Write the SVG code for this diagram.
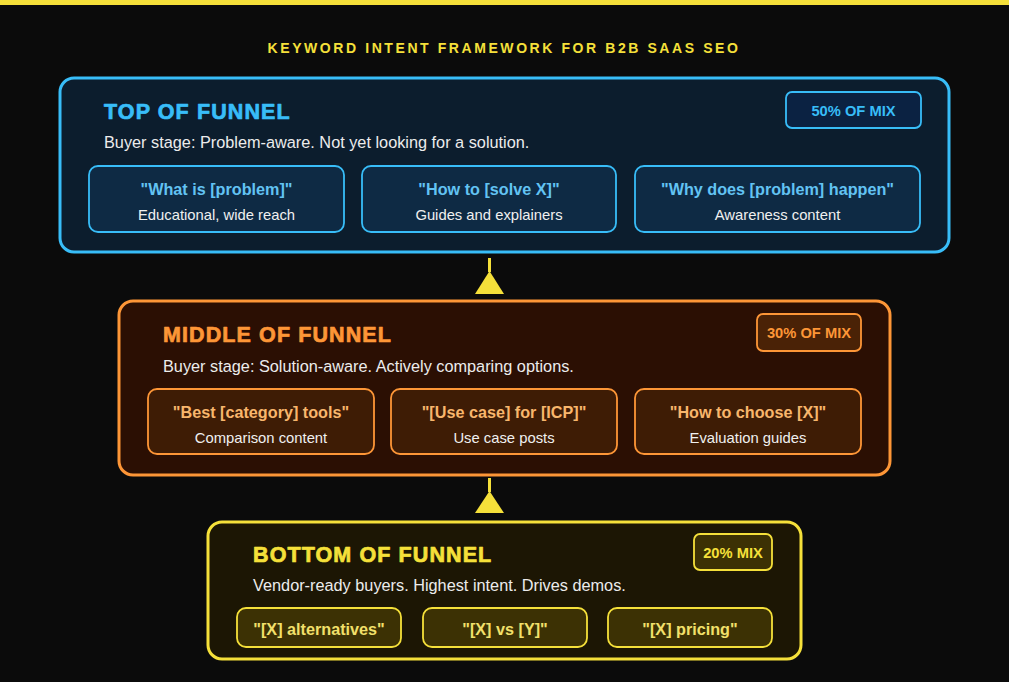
<svg xmlns="http://www.w3.org/2000/svg" width="1024" height="698" viewBox="0 0 1024 698">
<style>
text{font-family:"Liberation Sans",Arial,sans-serif}
.main{font-weight:700;font-size:14px;letter-spacing:2.58px;fill:#f5e03a;text-anchor:middle}
.h{font-weight:700;font-size:21.5px;letter-spacing:1.1px;stroke-width:0.7px;stroke-linejoin:round}
.sub{font-size:16.3px;fill:#ececec}
.badge{font-weight:700;font-size:14.7px;text-anchor:middle}
.kt{font-weight:700;font-size:16.2px;text-anchor:middle}
.kd{font-size:14.8px;fill:#f0f0f0;text-anchor:middle}
.blue .frame{fill:#0c1d2d;stroke:#38bdf8;stroke-width:3}
.blue .card{fill:#0e2a44;stroke:#38bdf8;stroke-width:1.8}
.blue .bd{fill:#0b2242;stroke:#38bdf8;stroke-width:1.8}
.blue .h{fill:#38bdf8;stroke:#38bdf8}
.blue .badge{fill:#38bdf8}
.blue .kt{fill:#62c3f3}
.orange .frame{fill:#2b0f03;stroke:#fd9637;stroke-width:3}
.orange .card{fill:#3e1c05;stroke:#fd9637;stroke-width:1.8}
.orange .bd{fill:#4a2206;stroke:#fd9637;stroke-width:1.8}
.orange .h{fill:#fd9637;stroke:#fd9637}
.orange .badge{fill:#fd9637}
.orange .kt{fill:#f8b66c}
.yellow .frame{fill:#1c1604;stroke:#f5e03a;stroke-width:3}
.yellow .card{fill:#3c3104;stroke:#f5e03a;stroke-width:1.8}
.yellow .bd{fill:#3c3104;stroke:#f5e03a;stroke-width:1.8}
.yellow .h{fill:#f5e03a;stroke:#f5e03a}
.yellow .badge{fill:#f5e03a}
.yellow .kt{fill:#f2e06a}
.arrow{fill:#f5e03a}
</style>
<rect x="0" y="0" width="1024" height="698" fill="#ffffff"/>
<rect x="0" y="0" width="1009" height="682" fill="#0b0b0b"/>
<rect x="0" y="0" width="1009" height="5" fill="#f5e03a"/>
<text class="main" x="504" y="53">KEYWORD INTENT FRAMEWORK FOR B2B SAAS SEO</text>

<g id="top-of-funnel" class="blue">
<rect class="frame" x="60" y="78" width="889" height="174" rx="14"/>
<text class="h" x="104" y="119">TOP OF FUNNEL</text>
<rect class="bd" x="786" y="92" width="135" height="36" rx="6"/>
<text class="badge" x="853.5" y="115.5">50% OF MIX</text>
<text class="sub" x="104" y="148">Buyer stage: Problem-aware. Not yet looking for a solution.</text>
<g id="tof-1"><rect class="card" x="89" y="166" width="255" height="66" rx="9"/>
<text class="kt" x="216.5" y="194.5">"What is [problem]"</text>
<text class="kd" x="216.5" y="219.5">Educational, wide reach</text></g>
<g id="tof-2"><rect class="card" x="362" y="166" width="254" height="66" rx="9"/>
<text class="kt" x="489" y="194.5">"How to [solve X]"</text>
<text class="kd" x="489" y="219.5">Guides and explainers</text></g>
<g id="tof-3"><rect class="card" x="635" y="166" width="285" height="66" rx="9"/>
<text class="kt" x="777.5" y="194.5">"Why does [problem] happen"</text>
<text class="kd" x="777.5" y="219.5">Awareness content</text></g>
</g>

<g id="middle-of-funnel" class="orange">
<rect class="frame" x="119" y="301" width="771" height="174" rx="14"/>
<text class="h" x="163" y="342">MIDDLE OF FUNNEL</text>
<rect class="bd" x="757" y="314" width="104" height="37" rx="6"/>
<text class="badge" x="809" y="338">30% OF MIX</text>
<text class="sub" x="163" y="372">Buyer stage: Solution-aware. Actively comparing options.</text>
<g id="mof-1"><rect class="card" x="148" y="389" width="226" height="65" rx="9"/>
<text class="kt" x="261" y="417.5">"Best [category] tools"</text>
<text class="kd" x="261" y="442.5">Comparison content</text></g>
<g id="mof-2"><rect class="card" x="391" y="389" width="226" height="65" rx="9"/>
<text class="kt" x="504" y="417.5">"[Use case] for [ICP]"</text>
<text class="kd" x="504" y="442.5">Use case posts</text></g>
<g id="mof-3"><rect class="card" x="635" y="389" width="226" height="65" rx="9"/>
<text class="kt" x="748" y="417.5">"How to choose [X]"</text>
<text class="kd" x="748" y="442.5">Evaluation guides</text></g>
</g>

<g id="bottom-of-funnel" class="yellow">
<rect class="frame" x="208" y="522" width="593" height="137" rx="14"/>
<text class="h" x="253" y="562">BOTTOM OF FUNNEL</text>
<rect class="bd" x="694" y="534" width="78" height="36" rx="6"/>
<text class="badge" x="733" y="557.5">20% MIX</text>
<text class="sub" x="253" y="591">Vendor-ready buyers. Highest intent. Drives demos.</text>
<g id="bof-1"><rect class="card" x="237" y="608" width="164" height="39" rx="9"/>
<text class="kt" x="319" y="634.5">"[X] alternatives"</text></g>
<g id="bof-2"><rect class="card" x="423" y="608" width="164" height="39" rx="9"/>
<text class="kt" x="505" y="634.5">"[X] vs [Y]"</text></g>
<g id="bof-3"><rect class="card" x="608" y="608" width="164" height="39" rx="9"/>
<text class="kt" x="690" y="634.5">"[X] pricing"</text></g>
</g>

<g id="connectors">
<rect class="arrow" x="488" y="258" width="3" height="14"/>
<polygon class="arrow" points="489.5,271 475,294 504,294"/>
<rect class="arrow" x="488" y="478" width="3" height="14"/>
<polygon class="arrow" points="489.5,491 475,513 504,513"/>
</g>
</svg>
